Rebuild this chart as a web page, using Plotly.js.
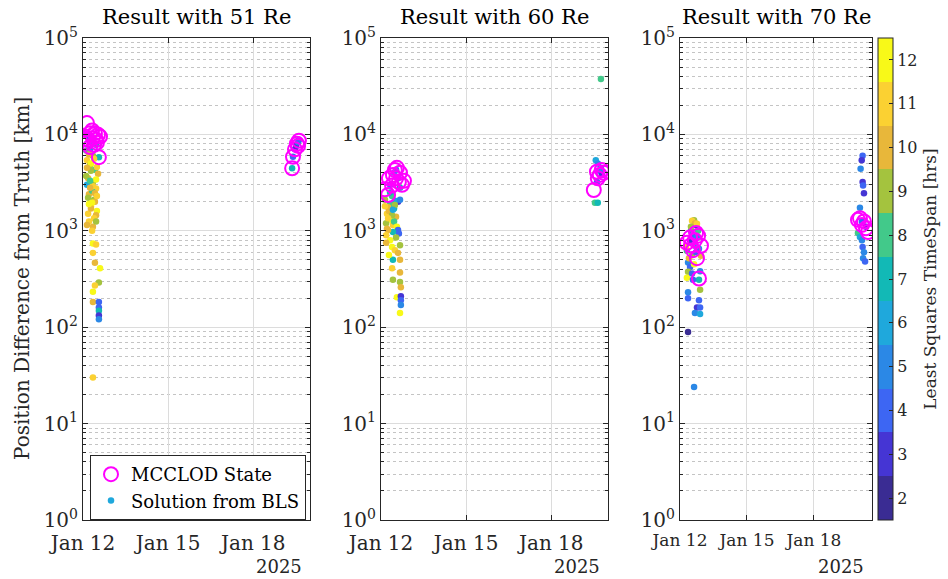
<!DOCTYPE html>
<html>
<head>
<meta charset="utf-8">
<script src="https://cdn.plot.ly/plotly-3.0.1.min.js"></script>
<style>html,body{margin:0;padding:0;background:#fff;}#chart{width:948px;height:579px;}</style>
</head>
<body>
<div id="chart"></div>
<script>
// ---------- DATA (x = days after 2025-01-12 00:00 UTC) ----------
const panelTitles = ["Result with 51 Re", "Result with 60 Re", "Result with 70 Re"];
const xTickDays = [0, 3, 6];
const xTickText = ["Jan 12", "Jan 15", "Jan 18"];
const yTickVals = [1, 10, 100, 1000, 10000, 100000];
const cbTicks = [2, 3, 4, 5, 6, 7, 8, 9, 10, 11, 12];
const cbColors = ["#3a2c93", "#4535d4", "#3d66f3", "#2b88e6", "#1fa8dc", "#12b9b6",
                  "#42c98a", "#a4c33e", "#e8b73a", "#fbd132", "#f8f918"];

// Panel 1 (51 Re)
const bls1_t = [0.18,0.32,0.46,0.25,0.56, 0.11,0.35,0.14,0.25,0.42,0.53,0.18,0.35,0.14,0.46,0.21,0.39,0.28,0.49,0.46,0.21,0.35,0.28,0.49,0.11,0.32,0.42,0.18,
                0.21,0.39,0.28,0.46,0.14,0.35,0.25,0.42,0.18,0.32,0.49,0.28,0.39,0.21,0.14,0.46,0.32,0.25,
                0.35,0.46,0.35,0.42,0.60,0.56,0.42,0.35,0.35,0.56,0.56,0.56,0.56,0.56,0.35,
                7.37,7.40,7.51,7.58,7.61,7.47];
const bls1_v = [9500,8600,7800,7000,5800, 6800,6000,5400,4800,4300,3900,3500,3200,3000,2750,2400,2100,1800,1600,1450,1250,1100,5000,4600,3700,2600,2000,1500,
                6200,5600,4200,3400,4500,2900,3300,2450,2200,1950,2300,1700,1350,1900,1150,1250,1000,2800,
                740,720,590,465,410,290,270,233,183,183,160,148,132,121,30,
                4450,5850,7600,8300,8800,7000];
const bls1_c = [4,6,7,5,7, 8,9,11,9,8,10,10,9,6,11,10,9,11,12,10,11,10,12,11,9,8,10,11,
                10,11,9,12,10,11,8,10,9,12,11,10,11,12,10,9,11,10,
                12,11,11,10,12,9,11,12,10,4,4,7,3,5,11,
                7,4,3,5,4,3];
const mc1_t = [0.14,0.25,0.42,0.53,0.18,0.35,0.25,0.11,0.56,0.46,0.60,0.32,0.07,0.49,0.39, 7.37,7.40,7.47,7.54,7.61,7.58];
const mc1_v = [13100,10300,10300,9900,8800,9200,7400,8200,5800,8800,9500,11000,9000,8200,7800, 4450,5850,7000,8000,8600,7600];

// Panel 2 (60 Re)
const bls2_t = [0.46,0.60,0.32,0.67,0.53, 0.60, 0.14,0.32,0.46,0.21,0.53,0.35,0.25,0.49,0.67,0.39,0.18,0.42,
                0.28,0.46,0.14,0.39,0.56,0.21,0.32,0.49,0.25,0.42,
                0.60,0.63,0.32,0.42,0.25,0.39,0.67,0.49,0.60,0.42,0.67,0.39,0.67,0.42,0.67,0.70,0.56,0.70,0.70,0.70,0.67,0.18,0.28,0.18,0.53,
                7.75,7.54,7.64,7.57,7.64,7.71,7.78,7.61,7.75];
const bls2_v = [4000,3500,3000,2800,4300, 2000, 2100,1900,1700,1500,1400,1300,1750,2050,2100,2300,1200,1150,
                1600,1250,1800,1450,1100,1050,2500,1850,1350,1650,
                1020,940,800,970,1020,680,710,630,590,500,500,410,370,310,295,260,205,210,190,170,140,900,560,750,850,
                37500,1950,1950,5400,5000,4200,3800,3200,4500];
const bls2_c = [6,5,4,7,5, 3, 9,8,7,11,10,12,10,6,5,8,9,11,
                10,8,11,9,12,10,7,9,11,6,
                4,4,12,7,10,12,9,11,10,7,10,11,10,9,9,10,12,3,4,5,12,11,12,10,9,
                8,8,7,6,5,4,3,4,5];
const mc2_t = [0.25,0.39,0.53,0.67,0.49,0.74,0.28,0.14,0.81,0.56,0.42,0.63, 7.50,7.71,7.78,7.64,7.85,7.61];
const mc2_v = [2350,2950,3500,4000,4270,3000,3500,2700,3300,4500,3800,3200, 2650,3800,4270,3500,4000,4100];

// Panel 3 (70 Re)
const bls3_t = [0.63,0.54,0.72,0.49,0.36,0.45,0.36,0.31,0.85,0.58,0.90,0.36,0.36,0.85,0.76,0.90,0.67,0.90,0.36,0.63,
                0.58,0.76,0.45,0.67,0.85,0.31,0.54,0.72,0.94,0.27,0.81,0.67,0.49,0.76,0.40,0.63,0.90,0.54,
                8.18,8.14,8.09,8.18,8.20,8.24,8.06,7.97,8.06,8.15,8.18,8.24,8.20,8.29,8.15,8.33];
const bls3_v = [1290,1270,1150,1000,470,420,375,325,310,310,245,230,200,190,160,160,140,137,89,24,
                900,850,800,700,650,620,560,600,550,680,1000,1200,1100,1180,520,450,380,360,
                6000,5400,4400,3200,2950,2450,1730,950,860,800,680,600,520,480,1250,1100];
const bls3_c = [9,11,3,7,5,4,9,12,7,4,9,5,4,4,3,4,5,6,2,5,
                4,5,3,6,5,8,9,4,10,11,8,10,9,11,10,12,5,4,
                4,3,5,3,4,3,5,8,6,5,4,5,5,4,4,3];
const mc3_t = [0.49,0.67,0.76,0.85,0.31,0.58,0.81,0.94,0.45,0.72, 8.06,8.24,8.33,8.42,8.15,7.97];
const mc3_v = [710,800,520,320,750,630,890,700,850,950, 1350,1250,1060,970,1150,1300];

const xRangeDays = [[0, 8], [0, 8], [0, 8.6]];

// ---------- BUILD ----------
const base = Date.UTC(2025, 0, 12);
const toMs = d => base + d * 86400000;
const W = 948, H = 579;
const px = v => v / W, py = v => 1 - v / H;

const panels = [
  {bt: bls1_t, bv: bls1_v, bc: bls1_c, mt: mc1_t, mv: mc1_v, x0: 83, x1: 310},
  {bt: bls2_t, bv: bls2_v, bc: bls2_c, mt: mc2_t, mv: mc2_v, x0: 381, x1: 608},
  {bt: bls3_t, bv: bls3_v, bc: bls3_c, mt: mc3_t, mv: mc3_v, x0: 680, x1: 872}
];
const yTop = 38, yBot = 520;

const colorscale = [];
cbColors.forEach((c, i) => {
  colorscale.push([i / cbColors.length, c]);
  colorscale.push([(i + 1) / cbColors.length, c]);
});

const FONT = "DejaVu Serif, serif";
const traces = [];
const layout = {
  width: W, height: H,
  margin: {l: 0, r: 0, t: 0, b: 0, autoexpand: false},
  paper_bgcolor: "#fff", plot_bgcolor: "#fff",
  font: {family: FONT, color: "#262626", size: 20},
  showlegend: true,
  legend: {
    x: px(90), y: py(455), xanchor: "left", yanchor: "top",
    bgcolor: "#fff", bordercolor: "#262626", borderwidth: 1,
    font: {family: FONT, size: 18, color: "#000"},
    tracegroupgap: 0, itemsizing: "trace"
  },
  coloraxis: {
    cmin: 1.5, cmax: 12.5, colorscale: colorscale,
    colorbar: {
      x: px(878), xanchor: "left", y: py(yBot), yanchor: "bottom",
      lenmode: "pixels", len: yBot - yTop, thickness: 15, thicknessmode: "pixels",
      outlinewidth: 1, outlinecolor: "#262626", xpad: 0, ypad: 0,
      tickmode: "array", tickvals: cbTicks, ticks: "inside", ticklen: 4, tickcolor: "#262626",
      tickfont: {family: FONT, size: 16, color: "#262626"},
      title: {text: "Least Squares TimeSpan [hrs]", side: "right", font: {family: FONT, size: 17, color: "#262626"}}
    }
  },
  annotations: []
};

panels.forEach((p, i) => {
  const n = i + 1;
  const xa = "x" + (n === 1 ? "" : n), ya = "y" + (n === 1 ? "" : n);
  traces.push({
    type: "scatter", mode: "markers", xaxis: xa, yaxis: ya,
    x: p.bt.map(toMs), y: p.bv, showlegend: false,
    marker: {size: 6.5, color: p.bc, coloraxis: "coloraxis", line: {width: 0}}
  });
  traces.push({
    type: "scatter", mode: "markers", xaxis: xa, yaxis: ya,
    x: p.mt.map(toMs), y: p.mv, showlegend: false,
    marker: {size: 14, symbol: "circle-open", color: "#ff00ff", line: {width: 2, color: "#ff00ff"}}
  });
  const axBase = {
    showline: true, linecolor: "#262626", linewidth: 1, mirror: "ticks",
    ticks: "inside", ticklen: 5, tickcolor: "#262626",
    showgrid: true, gridcolor: "#dcdcdc", gridwidth: 1, zeroline: false,
    tickfont: {family: FONT, size: 20, color: "#262626"}
  };
  layout["xaxis" + (n === 1 ? "" : n)] = Object.assign({}, axBase, {
    type: "date", anchor: ya,
    domain: [px(p.x0), px(p.x1)],
    range: xRangeDays[i].map(toMs),
    tickmode: "array", tickvals: xTickDays.map(toMs), ticktext: xTickText,
    tickangle: 0, ticklabelstandoff: 5,
    tickfont: {family: FONT, size: (n === 3 ? 17 : 20), color: "#262626"}
  });
  layout["yaxis" + (n === 1 ? "" : n)] = Object.assign({}, axBase, {
    type: "log", anchor: xa,
    domain: [py(yBot), py(yTop)],
    range: [0, 5], tickmode: "array", tickvals: yTickVals,
    ticktext: ["10<sup>0</sup>","10<sup>1</sup>","10<sup>2</sup>","10<sup>3</sup>","10<sup>4</sup>","10<sup>5</sup>"],
    minor: {ticks: "inside", ticklen: 3, tickcolor: "#262626", showgrid: true, gridcolor: "#c4c4c4", griddash: "dot", gridwidth: 1, dtick: "D1"}
  });
  layout.annotations.push({
    xref: "paper", yref: "paper", x: px((p.x0 + p.x1) / 2), y: py(17),
    xanchor: "center", yanchor: "middle", showarrow: false,
    text: panelTitles[i], font: {family: FONT, size: 21, color: "#000"}
  });
  layout.annotations.push({
    xref: "paper", yref: "paper", x: px(p.x1 - 6), y: py(566),
    xanchor: "right", yanchor: "middle", showarrow: false,
    text: "2025", font: {family: FONT, size: 18, color: "#262626"}
  });
});

layout.annotations.push({
  xref: "paper", yref: "paper", x: px(22), y: py((yTop + yBot) / 2),
  xanchor: "center", yanchor: "middle", showarrow: false, textangle: -90,
  text: "Position Difference from Truth [km]", font: {family: FONT, size: 20, color: "#262626"}
});

// legend-only traces
traces.push({type: "scatter", mode: "markers", x: [null], y: [null], name: "MCCLOD State",
  marker: {size: 14, symbol: "circle-open", color: "#ff00ff", line: {width: 2, color: "#ff00ff"}}});
traces.push({type: "scatter", mode: "markers", x: [null], y: [null], name: "Solution from BLS",
  marker: {size: 6.5, color: "#1fa8dc"}});

Plotly.newPlot("chart", traces, layout, {displayModeBar: false, staticPlot: true});
</script>
</body>
</html>
